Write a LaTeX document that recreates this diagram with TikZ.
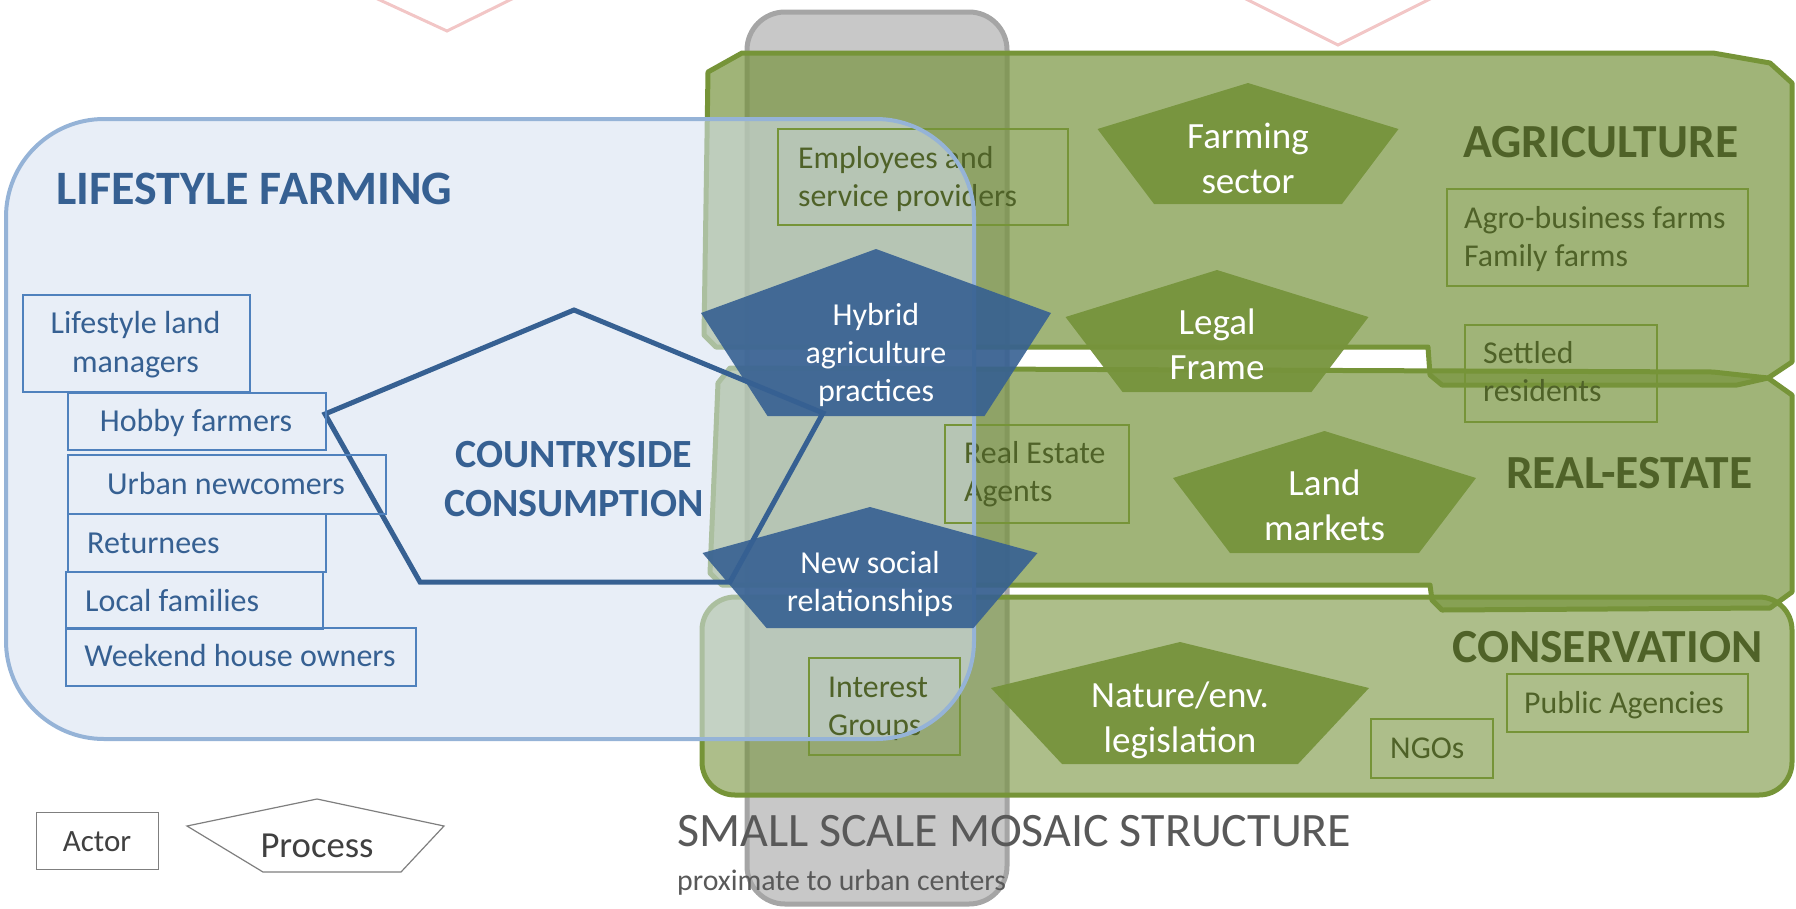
\documentclass[tikz,border=0pt]{standalone}
\usepackage{fontspec}
\setmainfont{Carlito}
\definecolor{agfill}{RGB}{118,147,60}
\definecolor{agline}{RGB}{118,148,56}
\definecolor{olivetxt}{RGB}{79,98,40}
\definecolor{bluefillc}{RGB}{214,225,241}
\definecolor{blueline}{RGB}{149,179,215}
\definecolor{darkblue}{RGB}{54,96,146}
\definecolor{actorblue}{RGB}{79,129,189}
\definecolor{stripfill}{RGB}{200,200,200}
\definecolor{stripline}{RGB}{165,165,165}
\definecolor{pinkline}{RGB}{242,198,198}
\definecolor{greytxt}{RGB}{89,89,89}
\definecolor{legline}{RGB}{127,127,127}
\newcommand\fsz[2]{\fontsize{#1pt}{#2pt}\selectfont}
\newcommand\stk[2]{\begin{tabular}[t]{@{}#1@{}}#2\end{tabular}}
\newcommand\pentagon[7]{%
  \fill[#1] (#2,#3) -- ({#2+#6},#4) -- ({#2+#7},#5) -- ({#2-#7},#5) -- ({#2-#6},#4) -- cycle;}
\begin{document}
\begin{tikzpicture}[x=1pt,y=-1pt,
  agbox/.style={draw=agline, line width=5, fill=agfill, fill opacity=0.69, line join=round},
  cobox/.style={draw=agline, line width=5, fill=agfill, fill opacity=0.6},
  strip/.style={draw=stripline, line width=5, fill=stripfill},
  gactor/.style={draw=agline, line width=2, inner sep=0, anchor=north west},
  bactor/.style={draw=actorblue, line width=1.5, inner sep=0, anchor=north west},
  gtxt/.style={inner sep=0, anchor=base west, text=olivetxt, font=\fsz{31.8}{38}},
  btxt/.style={inner sep=0, text=darkblue, font=\fsz{32}{39}},
  cat/.style={inner sep=0, anchor=base west, text=olivetxt, font=\fsz{47.5}{50}\bfseries},
  gpent/.style={fill=agfill, fill opacity=0.95},
  bpent/.style={fill=darkblue, fill opacity=0.9},
  gptxt/.style={inner sep=0, anchor=base, text=white, font=\fsz{37}{45}},
  bptxt/.style={inner sep=0, anchor=base, text=white, font=\fsz{32}{38}}
]
\useasboundingbox (0,0) rectangle (1796,908);
\clip (0,0) rectangle (1796,908);

% pink fragments at the top
\draw[pinkline, line width=3] (369,-5) -- (447,31) -- (520,-5);
\draw[pinkline, line width=3] (1238,-5) -- (1338,45) -- (1438,-5);

% grey mosaic strip
\draw[strip, rounded corners=38] (747,12) rectangle (1007,904);

% sector boxes
\draw[agbox] (708,72) -- (742,53) -- (1713,53) -- (1770,63) -- (1792,83) -- (1792,362)
  -- (1768,378) -- (1737,385) -- (1442,385) -- (1430,375) -- (1428,347) -- (716,347)
  -- (704,335) -- cycle;
\draw[agbox] (718,383) -- (730,368) -- (1713,372) -- (1768,378) -- (1792,395) -- (1792,592)
  -- (1770,608) -- (1442,610) -- (1432,600) -- (1430,585) -- (722,585) -- (710,573) -- cycle;
\draw[cobox, rounded corners=33] (702,597) rectangle (1792,795);

% lifestyle farming box (fill)
\fill[bluefillc, fill opacity=0.56, rounded corners=98] (6,119) rectangle (974,739);

% green actors
\node[gactor, minimum width=290, minimum height=96] (emp) at (777,128) {};
\node[gtxt] (emptxt) at (798,168) {\stk{l}{Employees and\\service providers}};
\node[gactor, minimum width=301, minimum height=97] (agro) at (1446,188) {};
\node[gtxt] (agrotxt) at (1464,228) {\stk{l}{Agro-business farms\\Family farms}};
\node[gactor, minimum width=192, minimum height=97] (settled) at (1464,324) {};
\node[gtxt] (settledtxt) at (1483,363) {\stk{l}{Settled\\residents}};
\node[gactor, minimum width=184, minimum height=98] (rea) at (944,424) {};
\node[gtxt] (reatxt) at (964,463) {\stk{l}{Real Estate\\Agents}};
\node[gactor, minimum width=151, minimum height=97] (int) at (808,657) {};
\node[gtxt] (inttxt) at (828,697) {\stk{l}{Interest\\Groups}};
\node[gactor, minimum width=122, minimum height=59] (ngo) at (1370,718) {};
\node[gtxt] (ngotxt) at (1390,758) {NGOs};
\node[gactor, minimum width=241, minimum height=58] (pub) at (1506,673) {};
\node[gtxt] (pubtxt) at (1524,713) {Public Agencies};

% sector titles
\node[cat] (agri) at (1463,157) {AGRICULTURE};
\node[cat] (realest) at (1506,488) {REAL-ESTATE};
\node[cat] (cons) at (1452,662) {CONSERVATION};

% lifestyle farming box (border)
\draw[blueline, line width=4, rounded corners=98] (6,119) rectangle (974,739);

% green processes
\pentagon{gpent}{1248}{83}{129}{204}{150.5}{94}
\node[gptxt] (farming) at (1248,148) {\stk{c}{Farming\\sector}};
\pentagon{gpent}{1217}{270}{317}{392}{151.5}{94.5}
\node[gptxt] (legal) at (1217,334) {\stk{c}{Legal\\Frame}};
\pentagon{gpent}{1324.5}{431}{478}{553}{151.5}{94.5}
\node[gptxt] (land) at (1324.5,495) {\stk{c}{Land\\markets}};
\pentagon{gpent}{1180}{642}{688}{764}{189}{118}
\node[gptxt] (nature) at (1180,707) {\stk{c}{Nature/env.\\legislation}};

% blue processes
\pentagon{bpent}{876}{249}{313}{416}{175}{108.5}
\node[bptxt] (hybrid) at (876,325) {\stk{c}{Hybrid\\agriculture\\practices}};
\pentagon{bpent}{870}{507}{553}{628}{167.5}{103.5}
\node[bptxt] (social) at (870,573) {\stk{c}{New social\\relationships}};

% countryside consumption
\draw[darkblue, line width=5] (574,310) -- (823,413) -- (730,582) -- (420,582) -- (325,414) -- cycle;
\node[inner sep=0, anchor=base, text=darkblue, font=\fsz{40}{49}\bfseries] (cc) at (574,467)
  {\stk{c}{COUNTRYSIDE\\CONSUMPTION}};

% lifestyle title and actors
\node[inner sep=0, anchor=base west, text=darkblue, font=\fsz{48}{52}\bfseries] (lf) at (56,204) {LIFESTYLE FARMING};
\node[bactor, minimum width=227, minimum height=97] (lm) at (22,294) {};
\node[btxt, anchor=base] (lmtxt) at (135.5,333) {\stk{c}{Lifestyle land\\managers}};
\node[bactor, minimum width=258, minimum height=57] (hobby) at (67,392) {};
\node[btxt, anchor=base] (hobbytxt) at (196,431) {Hobby farmers};
\node[bactor, minimum width=318, minimum height=59] (urban) at (67,454) {};
\node[btxt, anchor=base] (urbantxt) at (226,494) {Urban newcomers};
\node[bactor, minimum width=258, minimum height=58] (ret) at (67,513) {};
\node[btxt, anchor=base west] (rettxt) at (87,553) {Returnees};
\node[bactor, minimum width=257, minimum height=57] (local) at (65,571) {};
\node[btxt, anchor=base west] (localtxt) at (85,611) {Local families};
\node[bactor, minimum width=350, minimum height=58] (week) at (65,627) {};
\node[btxt, anchor=base] (weektxt) at (240,666) {Weekend house owners};

% legend
\node[draw=legline, line width=1.2, inner sep=0, anchor=north west, minimum width=122, minimum height=57] (legactor) at (36,812) {};
\node[inner sep=0, anchor=base, text=black!75, font=\fsz{31}{36}] (legactortxt) at (97,851) {Actor};
\draw[legline, line width=1.2, fill=white] (317,799) -- (444,826) -- (401,872) -- (263,872) -- (187,826) -- cycle;
\node[inner sep=0, anchor=base, text=black!75, font=\fsz{36.7}{40}] (legproc) at (317,857) {Process};

% mosaic caption
\node[inner sep=0, anchor=base west, text=greytxt, font=\fsz{48}{50}] (mosaic) at (677,846) {SMALL SCALE MOSAIC STRUCTURE};
\node[inner sep=0, anchor=base west, text=greytxt, font=\fsz{29.8}{32}] (prox) at (677,890) {proximate to urban centers};
\end{tikzpicture}
\end{document}
